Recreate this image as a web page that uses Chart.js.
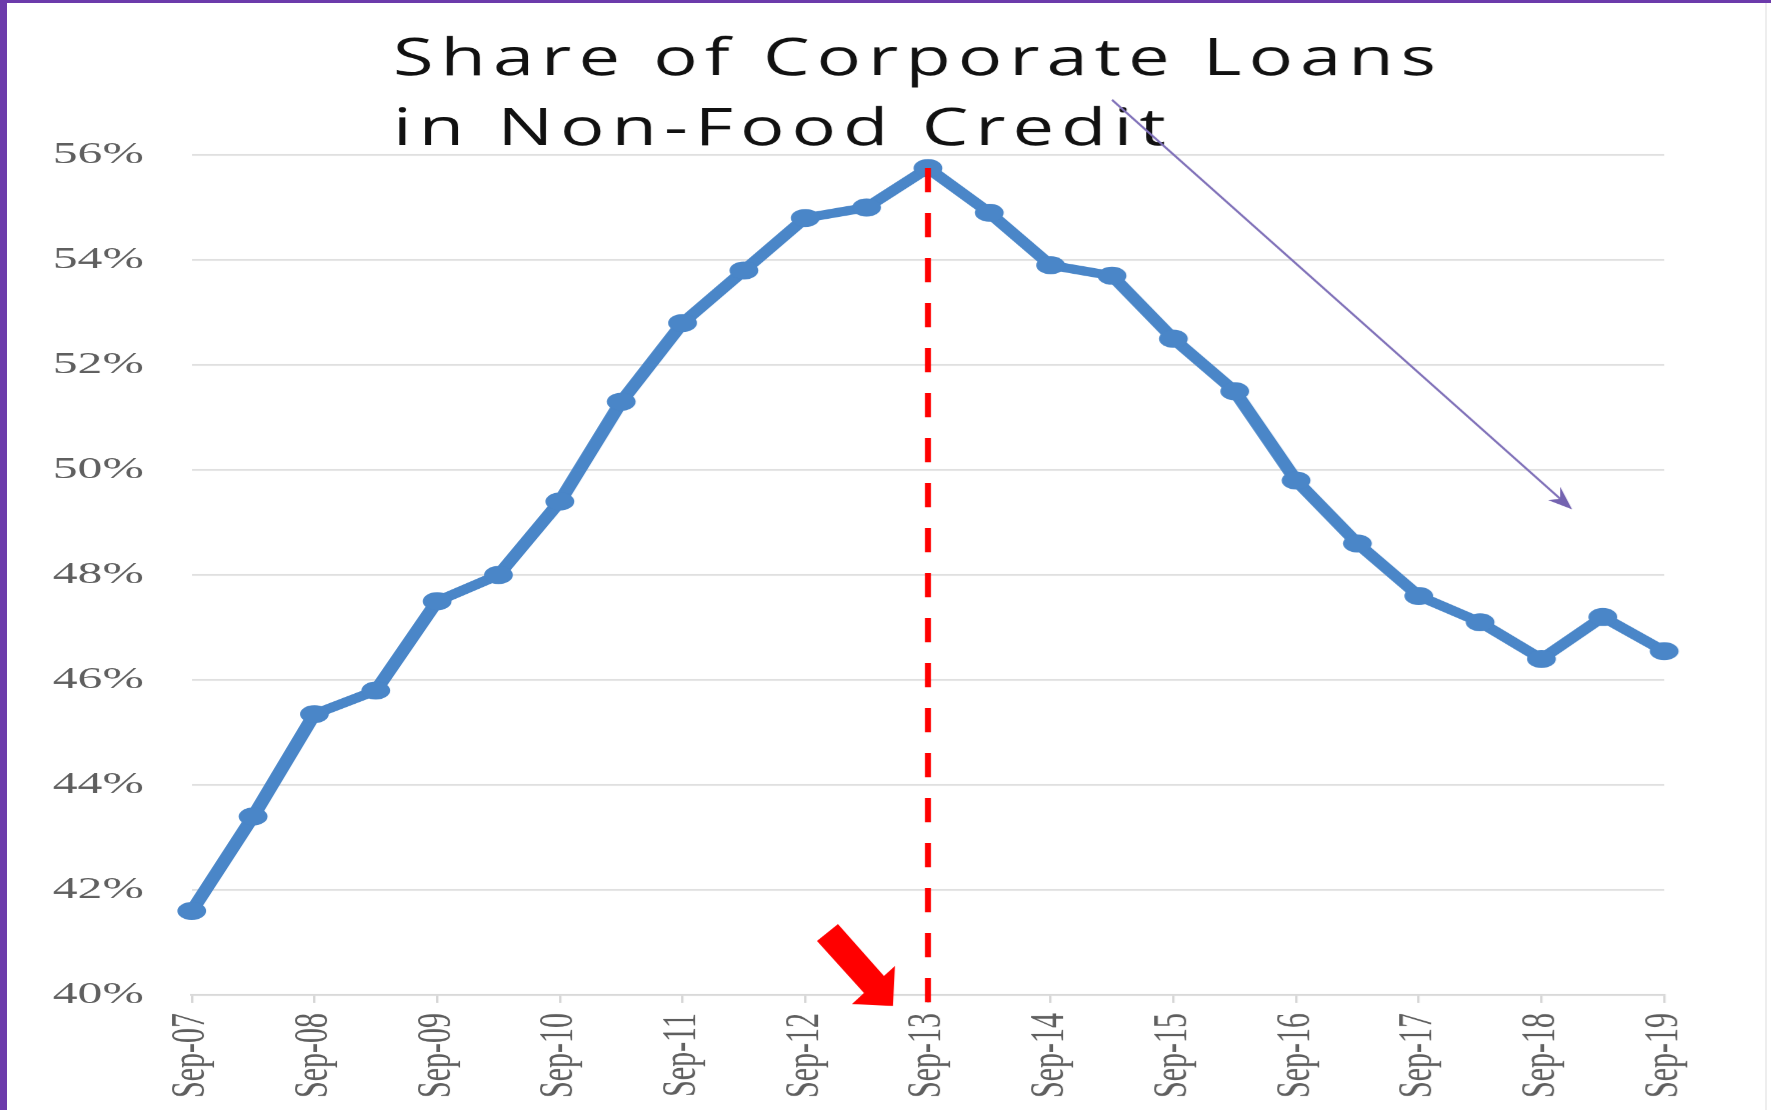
<!DOCTYPE html>
<html>
<head>
<meta charset="utf-8">
<script src="https://cdn.jsdelivr.net/npm/chart.js@4.4.1/dist/chart.umd.min.js"></script>
<style>
  html, body { margin: 0; padding: 0; background: #fff; overflow: hidden; }
  #page { position: relative; width: 1771px; height: 1110px; background: #fff; }
  /* the slide stretches the whole chart sideways, so draw narrow and widen it */
  #stretch { position: absolute; left: 0; top: 0; width: 1107px; height: 1110px;
             transform: scaleX(1.6); transform-origin: 0 0; }
  .edge { position: absolute; }
  #edge-left { left: 0; top: 0; width: 7px; height: 1110px; background: #6c3bab; }
  #edge-top { left: 0; top: 0; width: 1771px; height: 3px; background: #6c3bab; }
  #edge-right { left: 1765px; top: 3px; width: 2px; height: 1107px; background: #eeeeee; }
</style>
</head>
<body>
<div id="page">
  <div id="stretch"><canvas id="share-chart"></canvas></div>
  <div class="edge" id="edge-left"></div>
  <div class="edge" id="edge-top"></div>
  <div class="edge" id="edge-right"></div>
</div>
<script>
const SX = 1.6;

const periods = [
  'Sep-07', 'Mar-08', 'Sep-08', 'Mar-09', 'Sep-09', 'Mar-10', 'Sep-10', 'Mar-11', 'Sep-11',
  'Mar-12', 'Sep-12', 'Mar-13', 'Sep-13', 'Mar-14', 'Sep-14', 'Mar-15', 'Sep-15', 'Mar-16',
  'Sep-16', 'Mar-17', 'Sep-17', 'Mar-18', 'Sep-18', 'Mar-19', 'Sep-19',
];
const corporateShare = [
  41.6, 43.4, 45.35, 45.8, 47.5, 48.0, 49.4, 51.3, 52.8, 53.8, 54.8, 55.0, 55.75,
  54.9, 53.9, 53.7, 52.5, 51.5, 49.8, 48.6, 47.6, 47.1, 46.4, 47.2, 46.55,
];
const yMin = 40;
const yMax = 56;
const yStep = 2;
const titleLines = ['Share of Corporate Loans', 'in Non-Food Credit'];
const peakPeriod = 'Sep-13';
// trend arrow from (period index, %) to (period index, %)
const trendFrom = [15, 57.05];
const trendTo = [22.5, 49.25];

const BLUE = '#4a86c8';
const TICK_GREY = '#5f5f5f';
const serif = '"Liberation Serif", "Times New Roman", serif';

// Everything below is drawn in page pixels: undo the sideways stretch first.
const overlayPlugin = {
  id: 'overlay',
  afterDatasetsDraw(chart) {
    const { ctx, chartArea, scales: { x, y } } = chart;

    // title, slightly widened and letter-spaced
    ctx.save();
    const tx = 1.42;
    ctx.scale(tx / SX, 1);
    ctx.fillStyle = '#111111';
    ctx.font = '52px "Open Sans", sans-serif';
    ctx.textAlign = 'left';
    ctx.textBaseline = 'alphabetic';
    ctx.letterSpacing = '5px';
    ctx.fillText(titleLines[0], 393 / tx, 75);
    ctx.fillText(titleLines[1], 393 / tx, 145);
    ctx.restore();

    ctx.save();
    ctx.scale(1 / SX, 1);

    // dashed marker at the peak
    const peakIdx = periods.indexOf(peakPeriod);
    const px = x.getPixelForValue(peakIdx) * SX;
    ctx.strokeStyle = '#ff0000';
    ctx.lineWidth = 6;
    ctx.setLineDash([24, 21]);
    ctx.beginPath();
    ctx.moveTo(px, y.getPixelForValue(corporateShare[peakIdx]));
    ctx.lineTo(px, chartArea.bottom + 26);
    ctx.stroke();
    ctx.setLineDash([]);

    // block arrow pointing at the peak date
    const bx = px, by = chartArea.bottom;
    const block = [[-111, -54], [-90, -71], [-44, -19], [-33, -29], [-35, 11], [-76, 9], [-64, -2]];
    ctx.fillStyle = '#ff0000';
    ctx.beginPath();
    block.forEach(([dx, dy], i) => (i ? ctx.lineTo(bx + dx, by + dy) : ctx.moveTo(bx + dx, by + dy)));
    ctx.closePath();
    ctx.fill();

    // thin purple trend arrow
    const sx = x.getPixelForValue(trendFrom[0]) * SX, sy = y.getPixelForValue(trendFrom[1]);
    const ex = x.getPixelForValue(trendTo[0]) * SX, ey = y.getPixelForValue(trendTo[1]);
    const len = Math.hypot(ex - sx, ey - sy);
    const ux = (ex - sx) / len, uy = (ey - sy) / len;
    ctx.strokeStyle = '#7f70b8';
    ctx.lineWidth = 2.2;
    ctx.beginPath();
    ctx.moveTo(sx, sy);
    ctx.lineTo(ex - ux * 12, ey - uy * 12);
    ctx.stroke();
    ctx.fillStyle = '#7463b0';
    ctx.beginPath();
    ctx.moveTo(ex, ey);
    ctx.lineTo(ex - ux * 24 - uy * 9, ey - uy * 24 + ux * 9);
    ctx.lineTo(ex - ux * 16, ey - uy * 16);
    ctx.lineTo(ex - ux * 24 + uy * 9, ey - uy * 24 - ux * 9);
    ctx.closePath();
    ctx.fill();

    ctx.restore();
  },
};

new Chart(document.getElementById('share-chart'), {
  type: 'line',
  data: {
    labels: periods,
    datasets: [{
      label: 'Corporate loans share',
      data: corporateShare,
      borderColor: BLUE,
      backgroundColor: BLUE,
      borderWidth: 9,
      borderJoinStyle: 'round',
      borderCapStyle: 'round',
      pointRadius: 9,
      pointHoverRadius: 9,
      pointBackgroundColor: BLUE,
      pointBorderWidth: 0,
      tension: 0,
      fill: false,
      clip: false,
    }],
  },
  options: {
    responsive: true,
    maintainAspectRatio: false,
    devicePixelRatio: SX,
    animation: false,
    layout: { padding: { left: 3, right: 67, top: 155, bottom: 2 } },
    plugins: {
      legend: { display: false },
      tooltip: { enabled: false },
      title: { display: false },
    },
    scales: {
      x: {
        offset: false,
        ticks: {
          autoSkip: false,
          minRotation: 90,
          maxRotation: 90,
          padding: 10,
          color: TICK_GREY,
          font: { family: serif, size: 30 },
          callback: (v, i) => (i % 2 === 0 ? periods[i] : ''),
        },
        grid: {
          drawOnChartArea: false,
          drawTicks: true,
          tickLength: 8,
          lineWidth: 1.5,
          color: (c) => (c.index % 2 === 0 ? '#d6d6d6' : 'rgba(0,0,0,0)'),
        },
        border: { display: true, color: '#d9d9d9', width: 2 },
      },
      y: {
        min: yMin,
        max: yMax,
        ticks: {
          stepSize: yStep,
          padding: 30,
          color: TICK_GREY,
          font: { family: serif, size: 31 },
          callback: (v) => v + '%',
        },
        grid: { color: '#e0e0e0', lineWidth: 2, drawTicks: false },
        border: { display: false },
      },
    },
  },
  plugins: [overlayPlugin],
});
</script>
</body>
</html>
